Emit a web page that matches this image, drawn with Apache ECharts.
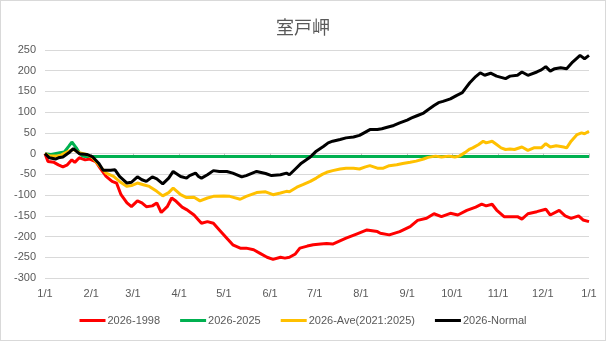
<!DOCTYPE html>
<html><head><meta charset="utf-8">
<script src="https://cdn.jsdelivr.net/npm/echarts@6/dist/echarts.min.js"></script>
<style>html,body{margin:0;padding:0;background:#fff}#c{width:604px;height:339px;border:1px solid #d9d9d9}</style>
</head><body><div id="c"></div>
<script>
// x = day index from 1/1 (0) to next 1/1 (365)
const seriesNames = ['2026-1998','2026-2025','2026-Ave(2021:2025)','2026-Normal'];
const redDays = [0,2,6,9,12,15,18,20,23,27,30,34,37,41,45,48,51,55,58,62,65,68,72,75,78,82,85,88,92,95,97,100,103,105,109,113,117,122,126,131,135,140,144,149,153,158,161,164,168,171,176,180,185,189,193,202,209,216,223,225,231,238,245,250,256,261,266,272,277,283,289,293,296,300,303,308,312,317,320,324,330,336,339,345,349,353,358,361,365];
const redVals = [0,-19,-21,-27,-32,-27,-15,-21,-10,-15,-13,-19,-35,-55,-67,-71,-99,-119,-128,-114,-119,-128,-126,-119,-142,-128,-107,-115,-129,-135,-140,-148,-160,-168,-164,-168,-184,-204,-220,-228,-228,-232,-240,-250,-255,-250,-252,-250,-242,-228,-223,-220,-218,-217,-218,-204,-194,-184,-188,-192,-196,-188,-176,-161,-156,-145,-152,-144,-148,-137,-129,-122,-126,-122,-136,-152,-152,-152,-158,-145,-140,-134,-148,-137,-150,-156,-150,-160,-164];
const greenDays = [0,4,10,13,16,18,19,21,23,25,27,365];
const greenVals = [0,-2,2,4,18,28,27,14,2,-5,-7,-7];
const yellowDays = [0,3,8,11,16,19,23,28,32,37,41,46,50,55,58,62,66,70,75,79,83,86,91,95,100,104,109,113,120,124,131,135,142,148,153,158,162,164,169,173,178,182,186,189,193,198,202,207,211,215,218,223,227,231,236,240,245,249,254,257,262,266,271,275,278,282,285,287,291,294,296,300,303,306,309,312,315,320,324,328,333,336,339,343,348,350,353,357,360,362,365];
const yellowVals = [0,-6,-6,-3,6,10,2,-2,-10,-31,-47,-55,-67,-79,-77,-71,-75,-79,-91,-102,-94,-83,-99,-106,-105,-114,-107,-103,-102,-103,-110,-103,-94,-92,-99,-95,-91,-92,-81,-75,-67,-59,-50,-45,-41,-37,-35,-35,-37,-32,-29,-35,-35,-29,-27,-24,-21,-18,-13,-9,-6,-8,-6,-8,-6,3,11,14,22,30,26,30,22,14,10,11,10,16,8,14,14,24,16,19,16,14,30,46,50,48,54];
const blackDays = [0,3,7,9,12,16,19,21,23,28,32,36,39,44,47,50,55,58,62,65,68,72,75,79,83,86,91,95,97,101,103,105,109,113,117,122,126,132,135,142,148,152,158,162,164,168,172,178,182,187,190,193,198,202,207,211,215,218,223,226,229,234,238,243,246,250,254,257,261,264,267,272,276,280,282,285,289,292,295,299,303,309,312,317,320,324,330,333,336,339,342,346,350,354,359,362,365];
const blackVals = [0,-10,-13,-10,-8,2,12,6,0,-2,-8,-23,-40,-40,-39,-55,-71,-69,-56,-63,-67,-56,-61,-73,-59,-43,-55,-59,-53,-47,-55,-59,-51,-41,-43,-43,-47,-56,-53,-43,-48,-53,-51,-47,-51,-37,-23,-8,6,18,26,30,34,38,40,44,52,58,58,60,63,68,74,81,86,92,98,106,116,123,126,132,140,147,157,171,186,195,189,194,187,181,187,189,197,189,197,202,210,199,205,207,205,221,237,229,237];
const colors = ['#FF0000','#00B050','#FFC000','#000000'];
const yTicks = {min:-300, max:250, step:50};

// category labels: every day of 2026 plus next 1/1
const cats = [];
const d0 = new Date(2026,0,1);
for (let i=0;i<=365;i++){const d=new Date(2026,0,1+i);cats.push((d.getMonth()+1)+'/'+d.getDate());}
const isMonthStart = (i,v)=> String(v).split('/')[1]==='1';
const zip=(a,b)=>a.map((x,i)=>[x,b[i]]);
const allData=[zip(redDays,redVals),zip(greenDays,greenVals),zip(yellowDays,yellowVals),zip(blackDays,blackVals)];

const font='"Liberation Sans", Arial, sans-serif';
const chart=echarts.init(document.getElementById('c'),null,{renderer:'canvas'});
chart.setOption({
  animation:false,
  color:colors,
  title:{text:'室戸岬',left:'center',top:12,textStyle:{fontSize:18,fontWeight:'normal',color:'#595959',fontFamily:'"Noto Sans CJK JP", sans-serif'}},
  grid:{left:44,right:16,top:49,bottom:62,containLabel:false},
  legend:{bottom:9,left:'center',itemWidth:26,itemHeight:3,itemGap:20,icon:'rect',
    textStyle:{fontSize:11,color:'#595959',fontFamily:font,padding:[0,0,0,-3]},data:seriesNames},
  xAxis:{type:'category',data:cats,boundaryGap:false,
    axisLine:{show:true,lineStyle:{color:'#d9d9d9'}},
    axisTick:{show:true,interval:isMonthStart,length:4,lineStyle:{color:'#bfbfbf'}},
    axisLabel:{interval:isMonthStart,fontSize:11,color:'#595959',margin:10,fontFamily:font},
    splitLine:{show:false}},
  yAxis:{type:'value',min:yTicks.min,max:yTicks.max,interval:yTicks.step,
    axisLine:{show:false},axisTick:{show:false},
    axisLabel:{fontSize:11,color:'#595959',margin:9,fontFamily:font},
    splitLine:{lineStyle:{color:'#d9d9d9',width:1}}},
  series:seriesNames.map((n,i)=>({name:n,type:'line',data:allData[i],showSymbol:false,symbol:'none',
    lineStyle:{width:3,color:colors[i]},itemStyle:{color:colors[i]}}))
});
</script></body></html>
